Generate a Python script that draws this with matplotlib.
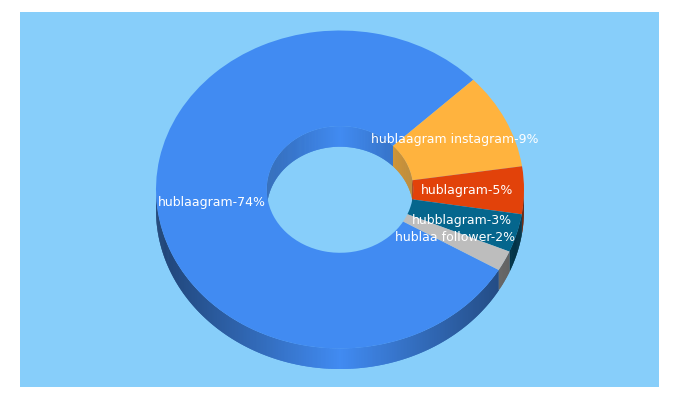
import numpy as np
import matplotlib
matplotlib.use("Agg")
import matplotlib.pyplot as plt
from matplotlib.collections import PolyCollection
from matplotlib.colors import to_rgb

categories = ["hublaagram", "hublaagram instagram", "hublagram", "hubblagram", "hublaa follower"]
shown_percent = [74, 9, 5, 3, 2]
slice_share = [79.44, 9.78, 4.83, 3.89, 2.06]
colors = ["#418bf2", "#ffb33e", "#e2420a", "#05668d", "#bdbdbd"]
BG = "#87cefa"

W, H = 680, 400
L, R, T, B = 20, 659, 12, 387
CX, CY, RX, RY = 340, 189.5, 184, 159
HOLE = 0.398
DEPTH = 20.5 / RY
START = -30.4

fig = plt.figure(figsize=(W / 100, H / 100), dpi=100, facecolor="white")
ax = fig.add_axes([L / W, (H - B) / H, (R - L) / W, (B - T) / H], facecolor=BG)

wedges, _ = ax.pie(slice_share, radius=1, startangle=START, counterclock=False, colors=colors,
                   frame=True, wedgeprops=dict(width=1 - HOLE, linewidth=0, zorder=2))


def wall(t1, t2, radius, color, falloff):
    """Shaded strip hanging below an arc, t1 < t2 in degrees."""
    if t2 <= t1:
        return
    n = max(2, int((t2 - t1) * 2))
    ts = np.radians(np.linspace(t1, t2, n + 1))
    polys, cols = [], []
    base = np.array(to_rgb(color))
    for i in range(n):
        seg = ts[i:min(i + 3, n + 1)]
        upper = [(radius * np.cos(a), radius * np.sin(a)) for a in seg]
        lower = [(x, y - DEPTH) for x, y in upper[::-1]]
        polys.append(upper + lower)
        f = 1 - falloff * abs(np.cos((ts[i] + ts[i + 1]) / 2))
        cols.append(tuple(base * f))
    ax.add_collection(PolyCollection(polys, facecolors=cols, edgecolors="none", linewidths=0, zorder=1))


a0 = START
fracs = np.array(slice_share) / np.sum(slice_share)
for frac, col in zip(fracs, colors):
    a1 = a0 - 360 * frac       # clockwise: slice spans a1..a0
    for k in (-360, 0, 360, 720):
        lo, hi = a1 + k, a0 + k
        wall(max(lo, 180), min(hi, 360), 1.0, col, 0.52)
        wall(max(lo, 0), min(hi, 180), HOLE, col, 0.24)
    a0 = a1

ax.set_aspect("auto")
ax.set_xlim((L - CX) / RX, (R - CX) / RX)
ax.set_ylim((CY - B) / RY, (CY - T) / RY)
ax.set_xticks([])
ax.set_yticks([])
for s in ax.spines.values():
    s.set_visible(False)

label_px = [(212, 202.5), (454.5, 140), (467, 191), (462, 221), (455, 238)]
for cat, p, (px, py) in zip(categories, shown_percent, label_px):
    ax.text((px - CX) / RX, (CY - py) / RY, f"{cat}-{p}%", color="white", fontsize=9.0,
            family="DejaVu Sans", ha="center", va="center", zorder=5)

fig.savefig("out.png", dpi=100, facecolor="white")
